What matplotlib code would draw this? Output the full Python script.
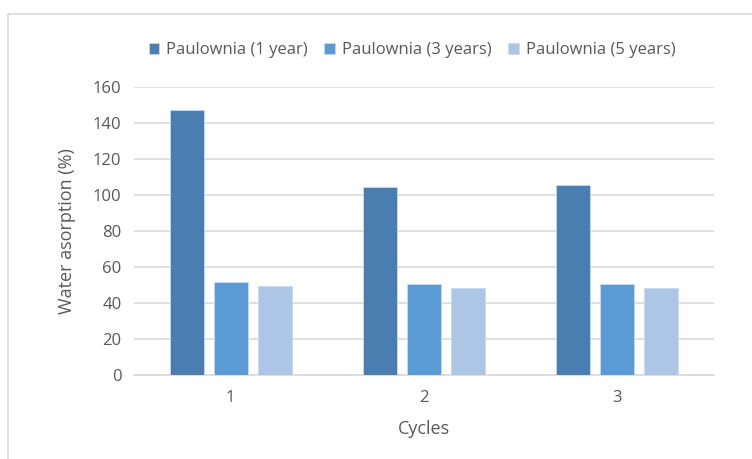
import matplotlib
matplotlib.use("Agg")
import matplotlib.pyplot as plt
import numpy as np
from matplotlib.patches import Rectangle

categories = ["1", "2", "3"]
series_names = ["Paulownia (1 year)", "Paulownia (3 years)", "Paulownia (5 years)"]
year1 = [147.3, 104.3, 105.3]
year3 = [51.6, 50.6, 50.6]
year5 = [49.2, 48.2, 48.2]
colors = ["#4A7EB0", "#5B9BD5", "#ADC6E5"]
yticks = [0, 20, 40, 60, 80, 100, 120, 140, 160]

plt.rcParams['font.family'] = ['Open Sans', 'DejaVu Sans']
text_color = "#595959"

fig = plt.figure(figsize=(7.52, 4.59), dpi=100)
ax = fig.add_axes([134/752, 1 - 375/459, (714-134)/752, (375-87)/459])

x = np.arange(len(categories))
width = 0.175
offsets = [-0.228, 0.0, 0.228]
for vals, off, c, name in zip([year1, year3, year5], offsets, colors, series_names):
    ax.bar(x + off, vals, width, color=c, edgecolor="#C9DAF0", linewidth=0.6, label=name, zorder=3)

ax.set_xlim(-0.5, 2.5)
ax.set_ylim(0, 160)
ax.set_yticks(yticks)
ax.set_xticks(x)
ax.set_xticklabels(categories)
ax.grid(axis='y', color="#D9D9D9", linewidth=1.2, zorder=0)
for s in ["top", "right", "left"]:
    ax.spines[s].set_visible(False)
ax.spines["bottom"].set_color("#D9D9D9")
ax.spines["bottom"].set_linewidth(1.2)
ax.tick_params(axis='both', length=0, labelsize=12, colors=text_color, pad=9)
ax.tick_params(axis='x', pad=11)
ax.set_ylabel("Water asorption (%)", fontsize=13, color=text_color, labelpad=12)
ax.set_xlabel("Cycles", fontsize=13, color=text_color, labelpad=10)

leg = ax.legend(loc="center", bbox_to_anchor=(412/752, 1 - 50/459), bbox_transform=fig.transFigure,
                ncol=3, frameon=False, fontsize=12, handlelength=0.65, handleheight=0.65,
                handletextpad=0.4, columnspacing=1.0, labelcolor=text_color)

fig.patches.append(Rectangle((8/752, -0.1), 1.2, 1 - 14/459 + 0.1, transform=fig.transFigure,
                             fill=False, edgecolor="#D9D9D9", linewidth=1.2))

fig.savefig("out.png", dpi=100, facecolor="white")
